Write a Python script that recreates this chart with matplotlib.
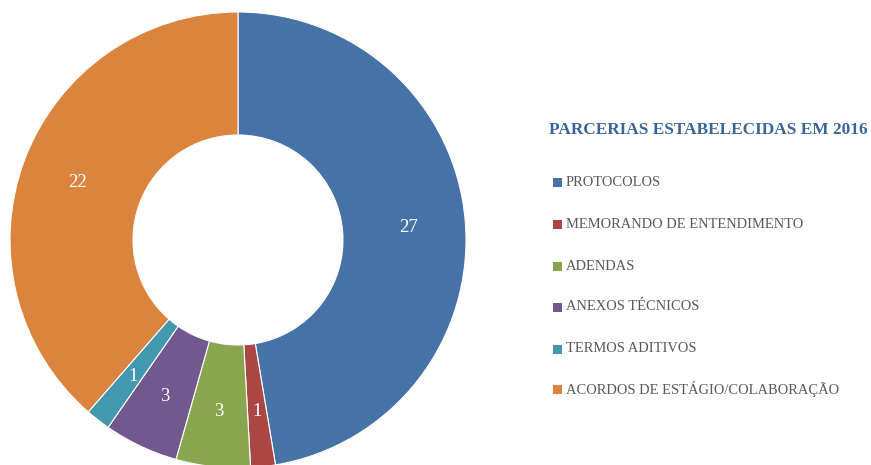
import matplotlib
matplotlib.use("Agg")
import matplotlib.pyplot as plt
from matplotlib.patches import Rectangle
import numpy as np

# Partnerships established in 2016
categories = [
    "PROTOCOLOS",
    "MEMORANDO DE ENTENDIMENTO",
    "ADENDAS",
    "ANEXOS TÉCNICOS",
    "TERMOS ADITIVOS",
    "ACORDOS DE ESTÁGIO/COLABORAÇÃO",
]
values = [27, 1, 3, 3, 1, 22]
colors = ["#4572A7", "#AA4643", "#89A54E", "#71588F", "#4198AF", "#DB843D"]
title = "PARCERIAS ESTABELECIDAS EM 2016"

W, H = 871, 465
fig = plt.figure(figsize=(W / 100, H / 100), dpi=100)
ax = fig.add_axes([0, 0, 1, 1])

serif = ["Liberation Serif", "DejaVu Serif"]
cx, cy, r_out, r_in = 238, H - 240, 228, 105

ax.pie(
    values,
    colors=colors,
    startangle=90,
    counterclock=False,
    center=(cx, cy),
    radius=r_out,
    wedgeprops=dict(width=r_out - r_in, edgecolor="white", linewidth=0.8),
)

# value labels placed inside each ring segment
total = sum(values)
cum = 0
r_lab = 171
for v in values:
    mid = 90 - (cum + v / 2) / total * 360
    cum += v
    x = cx + r_lab * np.cos(np.radians(mid))
    y = cy + r_lab * np.sin(np.radians(mid))
    ax.text(x, y, str(v), ha="center", va="center_baseline", color="white",
            fontsize=13.5, family=serif)

ax.set_xlim(0, W)
ax.set_ylim(0, H)
ax.set_aspect("equal")
ax.axis("off")

renderer = fig.canvas.get_renderer()


def fit(t, width):
    # scale the font so the text spans the given pixel width
    w = t.get_window_extent(renderer).width
    t.set_fontsize(t.get_fontsize() * width / w)


# legend
t = ax.text(549, H - 130, title, ha="left", va="center", color="#3A6598",
            fontsize=14, fontweight="bold", family=serif)
fit(t, 319)
ys = [183, 225, 267, 307, 349, 389]
items = []
for name, col, y in zip(categories, colors, ys):
    ax.add_patch(Rectangle((553, H - y - 4.5), 9, 9, color=col, lw=0))
    items.append(ax.text(566, H - y, name, ha="left", va="center",
                         color="#595959", fontsize=13, family=serif))
w = items[-1].get_window_extent(renderer).width
for it in items:
    it.set_fontsize(it.get_fontsize() * 271 / w)

fig.savefig("out.png", dpi=100)
